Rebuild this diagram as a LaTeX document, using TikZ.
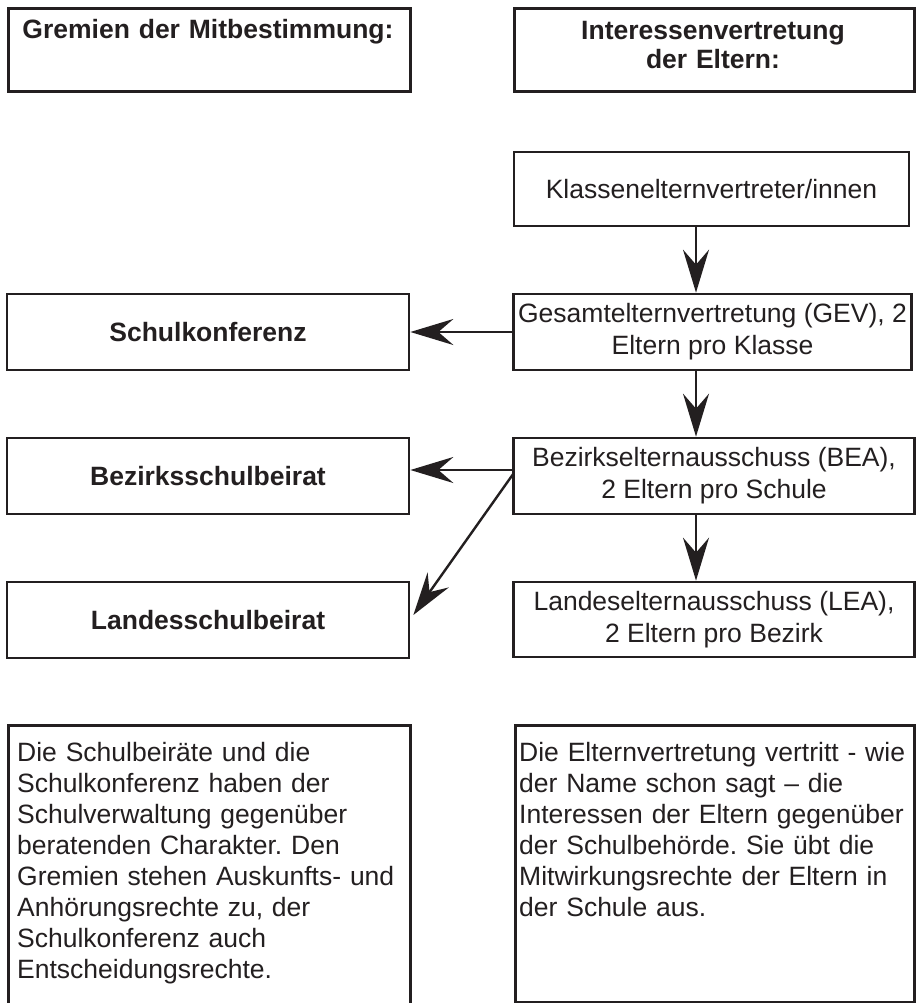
\documentclass[tikz,border=0pt]{standalone}
\usepackage{fontspec}
\setmainfont{Liberation Sans}
\usetikzlibrary{arrows.meta,calc}
\definecolor{ink}{RGB}{35,31,32}
\frenchspacing
\begin{document}
\begin{tikzpicture}[x=1pt,y=1pt,
  box/.style={draw=ink, line width=2.7pt, inner sep=0pt, align=center, text=ink,
    font=\fontsize{26.5}{32}\selectfont},
  lbox/.style={box, minimum width=402pt, minimum height=76pt},
  rbox/.style={box, minimum width=398pt, minimum height=76pt},
  head/.style={anchor=base, text width=395pt, align=center, inner sep=0pt, text=ink,
    font=\fontsize{26.5}{29}\selectfont\bfseries},
  para/.style={anchor=base west, text width=395pt, align=left, inner sep=0pt, text=ink,
    font=\fontsize{26.5}{31}\selectfont},
  conn/.style={draw=ink, line width=2.4pt, -{Stealth[length=43pt,width=26pt,inset=15pt]}}
]
\clip (0,0) rectangle (917,-1003);
\fill[white] (0,0) rectangle (917,-1003);
\coordinate (ax) at (696,0);

% header boxes
\node[box, minimum width=402pt, minimum height=83pt, anchor=north west] (hl) at (7,-7) {};
\node[head] (hlt) at (208,-39) {Gremien der Mitbestimmung:};
\node[box, minimum width=400pt, minimum height=83pt, anchor=north west] (hr) at (513,-7) {};
\node[head] (hrt) at (713,-40) {Interessenvertretung\\der Eltern:};

% right column
\node[rbox, minimum width=395pt, minimum height=74pt] (kl) at (711.5,-189) {Klassenelternvertreter/innen};
\node[rbox] (gev) at (712.5,-332) {Gesamtelternvertretung (GEV), 2\\Eltern pro Klasse};
\node[rbox, minimum width=401pt] (bea) at (714,-476) {Bezirkselternausschuss (BEA),\\2 Eltern pro Schule};
\node[rbox, minimum width=401pt, minimum height=75pt] (lea) at (714,-619.5) {Landeselternausschuss (LEA),\\2 Eltern pro Bezirk};

% left column
\node[lbox] (sk) at (208,-332) {\bfseries Schulkonferenz};
\node[lbox] (bz) at (208,-476) {\bfseries Bezirksschulbeirat};
\node[lbox] (ls) at (208,-620) {\bfseries Landesschulbeirat};

% bottom boxes
\node[box, minimum width=402pt, minimum height=320pt, anchor=north west] (bl) at (7,-724) {};
\node[para] (blt) at (17,-761) {Die Schulbeiräte und die\\Schulkonferenz haben der\\Schulverwaltung gegenüber\\beratenden Charakter. Den\\Gremien stehen Auskunfts- und\\Anhörungsrechte zu, der\\Schulkonferenz auch\\Entscheidungsrechte.};
\node[box, minimum width=399pt, minimum height=277pt, anchor=north west] (br) at (514,-724) {};
\node[para] (brt) at (519,-761) {Die Elternvertretung vertritt - wie\\der Name schon sagt – die\\Interessen der Eltern gegenüber\\der Schulbehörde. Sie übt die\\Mitwirkungsrechte der Eltern in\\der Schule aus.};

% connectors
\draw[conn] (kl.south -| ax) -- (gev.north -| ax);
\draw[conn] (gev.south -| ax) -- (bea.north -| ax);
\draw[conn] (bea.south -| ax) -- (lea.north -| ax);
\draw[conn] (gev.west) -- (sk.east);
\draw[conn] ($(bea.west)+(0,6)$) -- ($(bz.east)+(0,6)$);
\draw[conn] ($(bea.west)+(1,2)$) -- ($(ls.east)+(3,5)$);
\end{tikzpicture}
\end{document}
